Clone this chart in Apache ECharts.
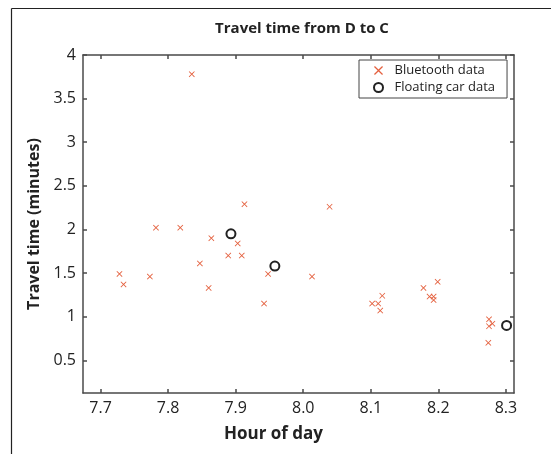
<!DOCTYPE html>
<html>
<head>
<meta charset="utf-8">
<script src="https://cdn.jsdelivr.net/npm/echarts@6/dist/echarts.min.js"></script>
<style>
html,body{margin:0;padding:0;background:#fff;}
#chart{width:551px;height:454px;}
</style>
</head>
<body>
<div id="chart"></div>
<script>
// Bluetooth data (hour of day, travel time in minutes)
const btX = [7.835, 7.913, 7.782, 7.818, 7.864, 7.903, 7.889, 7.909, 7.847, 7.728,
             7.734, 7.773, 7.860, 7.948, 7.942, 8.039, 8.013, 8.117, 8.102, 8.111,
             8.114, 8.178, 8.199, 8.187, 8.193, 8.193, 8.275, 8.280, 8.275, 8.274];
const btY = [3.78, 2.29, 2.02, 2.02, 1.90, 1.84, 1.70, 1.70, 1.61, 1.49,
             1.37, 1.46, 1.33, 1.49, 1.15, 2.26, 1.46, 1.24, 1.15, 1.15,
             1.07, 1.33, 1.40, 1.23, 1.23, 1.19, 0.97, 0.92, 0.89, 0.70];
// Floating car data
const fcX = [7.893, 7.958, 8.301];
const fcY = [1.95, 1.58, 0.90];
// Tick labels
const xTicks = [7.7, 7.8, 7.9, 8.0, 8.1, 8.2, 8.3];
const yTicks = [0.5, 1, 1.5, 2, 2.5, 3, 3.5, 4];

const titleText = 'Travel time from D to C';
const xName = 'Hour of day';
const yName = 'Travel time (minutes)';
const seriesNames = ['Bluetooth data', 'Floating car data'];

const xMin = 7.674, xMax = 8.312, yMin = 0.125, yMax = 4;
const axisColor = '#4a4a4a';
const font = '"Open Sans", "Noto Sans", sans-serif';
const crossPath = 'path://M0,1L1,0L5,4L9,0L10,1L6,5L10,9L9,10L5,6L1,10L0,9L4,5Z';

const chart = echarts.init(document.getElementById('chart'), null, {renderer: 'canvas'});

function xAxisDef(pos, showLabels) {
  return {
    type: 'value', position: pos, min: xMin, max: xMax,
    name: showLabels ? xName : '',
    nameLocation: 'middle', nameGap: 33,
    nameTextStyle: {fontFamily: font, fontSize: 17, fontWeight: 'bold', color: '#222', padding: [0, 50, 0, 0]},
    axisLine: {show: true, lineStyle: {color: axisColor, width: 1.5}},
    axisTick: {show: true, inside: true, length: 4, customValues: xTicks, lineStyle: {color: axisColor, width: 1.5}},
    axisLabel: {show: showLabels, customValues: xTicks, margin: 7, fontFamily: font, fontSize: 16, color: '#222',
                formatter: v => v.toFixed(1)},
    splitLine: {show: false}
  };
}
function yAxisDef(pos, showLabels) {
  return {
    type: 'value', position: pos, min: yMin, max: yMax,
    name: showLabels ? yName : '',
    nameLocation: 'middle', nameGap: 38,
    nameTextStyle: {fontFamily: font, fontSize: 16, fontWeight: 'bold', color: '#222'},
    axisLine: {show: true, lineStyle: {color: axisColor, width: 1.5}},
    axisTick: {show: true, inside: true, length: 4, customValues: yTicks, lineStyle: {color: axisColor, width: 1.5}},
    axisLabel: {show: showLabels, customValues: yTicks, margin: 7, fontFamily: font, fontSize: 16, color: '#222',
                formatter: v => String(v)},
    splitLine: {show: false}
  };
}

const option = {
  backgroundColor: '#fff',
  animation: false,
  title: {
    text: titleText, left: 297, textAlign: 'center', top: 16,
    textStyle: {fontFamily: font, fontSize: 15, fontWeight: 'bold', color: '#222'}
  },
  grid: {left: 83, right: 37, top: 55, bottom: 61, containLabel: false},
  xAxis: [xAxisDef('bottom', true), xAxisDef('top', false)],
  yAxis: [yAxisDef('left', true), yAxisDef('right', false)],
  legend: {
    left: 359, top: 60, orient: 'vertical',
    data: seriesNames,
    backgroundColor: '#fff',
    borderColor: '#444', borderWidth: 1,
    padding: [4, 12, 4, 14],
    itemWidth: 10, itemHeight: 9, itemGap: 4,
    textStyle: {fontFamily: font, fontSize: 13, color: '#222', padding: [0, 0, 0, 6]}
  },
  series: [
    {
      name: seriesNames[0], type: 'scatter', xAxisIndex: 0, yAxisIndex: 0,
      symbol: crossPath, symbolSize: 6,
      itemStyle: {color: '#e4603e', opacity: 1},
      data: btX.map((x, i) => [x, btY[i]])
    },
    {
      name: seriesNames[1], type: 'scatter', xAxisIndex: 0, yAxisIndex: 0,
      symbol: 'circle', symbolSize: 9,
      itemStyle: {color: '#fff', borderColor: '#222', borderWidth: 2, opacity: 1},
      data: fcX.map((x, i) => [x, fcY[i]])
    }
  ],
  graphic: [
    {type: 'line', shape: {x1: 11.5, y1: 8.5, x2: 551, y2: 8.5}, style: {stroke: '#222', lineWidth: 1.2}},
    {type: 'line', shape: {x1: 11.5, y1: 8.5, x2: 11.5, y2: 454}, style: {stroke: '#222', lineWidth: 1.2}}
  ]
};
chart.setOption(option);
</script>
</body>
</html>
